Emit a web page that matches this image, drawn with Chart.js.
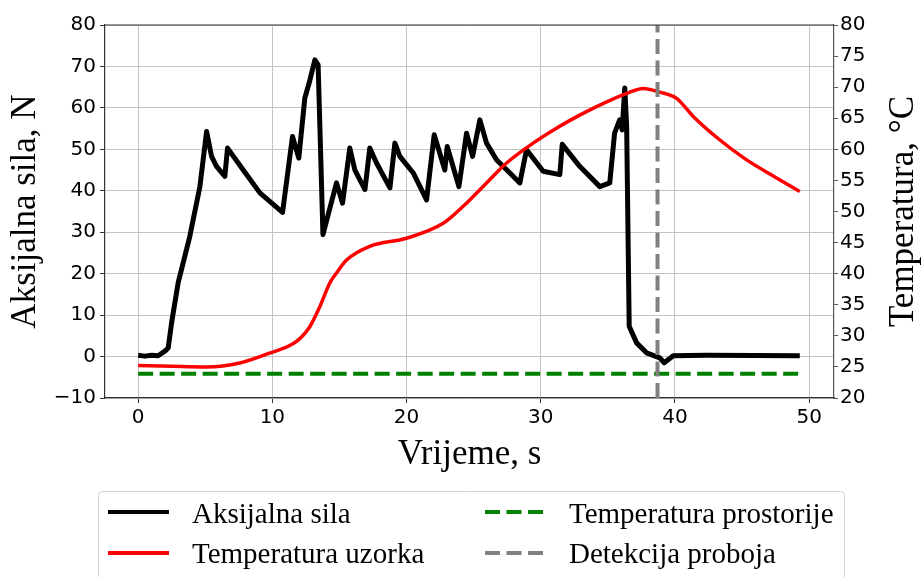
<!DOCTYPE html>
<html>
<head>
<meta charset="utf-8">
<script src="https://cdn.jsdelivr.net/npm/chart.js@4"></script>
<style>
  html, body { margin: 0; padding: 0; background: #fff; }
  #wrap { width: 922px; height: 577px; }
</style>
</head>
<body>
<div id="wrap"><canvas id="chart" width="922" height="577"></canvas></div>
<script>
// Aksijalna sila (N) vs vrijeme (s)
const forceTime = [0, 0.5, 1.0, 1.49, 1.99, 2.24, 2.49, 2.98, 3.85, 4.6, 5.1, 5.47, 5.84, 6.46, 6.66, 7.83,
    9.07, 10.76, 11.5, 11.97, 12.42, 12.74, 13.17, 13.41, 13.77, 14.78, 15.23, 15.77, 16.15, 16.9, 17.26, 17.76,
    18.76, 19.13, 19.5, 20.5, 21.49, 22.06, 22.85, 23.03, 23.9, 24.47, 24.92, 25.46, 25.96, 26.7, 27.7, 28.44,
    28.94, 30.18, 31.42, 31.6, 32.9, 34.4, 35.14, 35.5, 35.88, 36.07, 36.26, 36.4, 36.59, 37.14, 37.88, 38.87,
    39.2, 39.87, 42.3, 49.3];
const forceValues = [0.3, 0.1, 0.3, 0.2, 1.3, 2.1, 8.1, 17.8, 29, 41, 54.3, 48.3, 45.9, 43.5, 50.3, 45,
    39.5, 34.8, 53.1, 47.9, 62.4, 66, 71.6, 70.4, 29.4, 41.9, 37, 50.3, 45, 40.3, 50.3, 46.7,
    40.7, 51.5, 48.3, 44.3, 37.8, 53.5, 45, 50.7, 41, 53.9, 48.3, 57.1, 51.5, 47.5, 44.3, 41.9,
    49.9, 44.7, 43.9, 51.2, 45.9, 41, 41.9, 53.9, 57.1, 54.7, 64.8, 55.5, 7.3, 3.3, 0.9, -0.3,
    -1.5, 0.2, 0.3, 0.2];

// Temperatura uzorka (°C)
const tempTime = [0, 2.5, 5.1, 7.58, 9.81, 11.8, 12.8, 13.54, 14.28, 14.78, 15.53, 17.26, 20, 22.73, 24.2,
    25.96, 27.45, 29.43, 31.17, 32.9, 33.9, 36.4, 37.63, 38.87, 40.12, 41.36, 43.35, 45.34, 47.57, 49.3];
const tempValues = [25.24, 25.1, 24.98, 25.63, 27.23, 29.1, 31.5, 34.7, 38.5, 40.1, 42.2, 44.4, 45.7, 48.1, 50.8,
    54.6, 57.8, 61, 63.4, 65.5, 66.6, 69, 69.8, 69.2, 68.2, 65.3, 61.5, 58.3, 55.4, 53.2];

// Temperatura prostorije (°C)
const roomTime = [0, 49.3];
const roomTemp = [23.9, 23.9];

// Detekcija proboja (s)
const breakdownTime = 38.7;

const xTicks = [0, 10, 20, 30, 40, 50];
const forceTicks = [-10, 0, 10, 20, 30, 40, 50, 60, 70, 80];
const tempTicks = [20, 25, 30, 35, 40, 45, 50, 55, 60, 65, 70, 75, 80];

const toPoints = (xs, ys) => xs.map((x, i) => ({ x: x, y: ys[i] }));
const serif = '"Liberation Serif", "Times New Roman", serif';

Chart.defaults.font.family = '"DejaVu Sans", sans-serif';
Chart.defaults.color = '#000';

const extrasPlugin = {
    id: 'extras',
    afterDraw(chart) {
        const { ctx, chartArea: a } = chart;
        ctx.save();
        // top spine
        ctx.strokeStyle = '#333';
        ctx.lineWidth = 1.2;
        ctx.beginPath();
        ctx.moveTo(a.left, a.top);
        ctx.lineTo(a.right, a.top);
        ctx.stroke();

        // right axis title, reading bottom to top
        ctx.save();
        ctx.font = '35px ' + serif;
        ctx.fillStyle = '#000';
        ctx.translate(913, (a.top + a.bottom) / 2);
        ctx.rotate(-Math.PI / 2);
        ctx.textAlign = 'center';
        ctx.textBaseline = 'alphabetic';
        ctx.fillText('Temperatura, \u00B0C', 0, 0);
        ctx.restore();

        // legend box
        ctx.fillStyle = 'rgba(255,255,255,0.9)';
        ctx.strokeStyle = '#d4d4d4';
        ctx.lineWidth = 1;
        ctx.beginPath();
        ctx.roundRect(98.5, 491.5, 746, 100, 4);
        ctx.fill();
        ctx.stroke();

        const cols = [108, 485];
        const rows = [512, 553];
        const textRows = [523, 563];
        const slots = [[0, 0], [0, 1], [1, 0], [1, 1]];
        ctx.font = '29px ' + serif;
        ctx.textBaseline = 'alphabetic';
        ctx.textAlign = 'left';
        chart.data.datasets.forEach((ds, i) => {
            const [c, r] = slots[i];
            ctx.strokeStyle = ds.borderColor;
            ctx.lineWidth = 4;
            ctx.setLineDash(ds.borderDash || []);
            ctx.beginPath();
            ctx.moveTo(cols[c], rows[r]);
            ctx.lineTo(cols[c] + 61, rows[r]);
            ctx.stroke();
            ctx.setLineDash([]);
            ctx.fillStyle = '#000';
            ctx.fillText(ds.label, cols[c] + 84, textRows[r]);
        });
        ctx.restore();
    }
};

new Chart(document.getElementById('chart').getContext('2d'), {
    type: 'line',
    data: {
        datasets: [{
            label: 'Aksijalna sila',
            data: toPoints(forceTime, forceValues),
            borderColor: '#000000',
            borderWidth: 5,
            borderJoinStyle: 'round',
            pointRadius: 0,
            tension: 0,
            yAxisID: 'y',
            order: 4
        }, {
            label: 'Temperatura uzorka',
            data: toPoints(tempTime, tempValues),
            borderColor: '#ff0000',
            borderWidth: 3.5,
            pointRadius: 0,
            cubicInterpolationMode: 'monotone',
            yAxisID: 'y2',
            order: 3
        }, {
            label: 'Temperatura prostorije',
            data: toPoints(roomTime, roomTemp),
            borderColor: '#008000',
            borderWidth: 4,
            borderDash: [15, 6.5],
            pointRadius: 0,
            yAxisID: 'y2',
            order: 2
        }, {
            label: 'Detekcija proboja',
            data: [{ x: breakdownTime, y: forceTicks[0] }, { x: breakdownTime, y: forceTicks[forceTicks.length - 1] }],
            borderColor: '#808080',
            borderWidth: 4,
            borderDash: [15, 6.5],
            pointRadius: 0,
            yAxisID: 'y',
            order: 1
        }]
    },
    options: {
        responsive: false,
        animation: false,
        devicePixelRatio: 1,
        layout: { padding: { top: 25, bottom: 97, left: 0, right: 0 } },
        plugins: {
            legend: { display: false },
            tooltip: { enabled: false }
        },
        scales: {
            x: {
                type: 'linear',
                min: -2.47,
                max: 51.85,
                afterBuildTicks: s => { s.ticks = xTicks.map(v => ({ value: v })); },
                afterFit: s => { s.height = 82; },
                ticks: { font: { size: 20 }, padding: 3, maxRotation: 0 },
                grid: { color: '#c4c4c4', lineWidth: 1, tickLength: 5, tickColor: '#333' },
                border: { display: true, color: '#333', width: 1.2 },
                title: {
                    display: true,
                    text: 'Vrijeme, s',
                    font: { family: serif, size: 35 },
                    padding: { top: 0, bottom: 4 }
                }
            },
            y: {
                type: 'linear',
                position: 'left',
                min: -10,
                max: 80,
                afterBuildTicks: s => { s.ticks = forceTicks.map(v => ({ value: v })); },
                afterFit: s => { s.width = 105; },
                ticks: {
                    font: { size: 20 },
                    padding: 4,
                    callback: v => String(v).replace('-', '\u2212')
                },
                grid: { color: '#c4c4c4', lineWidth: 1, tickLength: 5, tickColor: '#333' },
                border: { display: true, color: '#333', width: 1.2 },
                title: {
                    display: true,
                    text: 'Aksijalna sila, N',
                    font: { family: serif, size: 35 },
                    padding: { top: 5, bottom: 0 }
                }
            },
            y2: {
                type: 'linear',
                position: 'right',
                min: 20,
                max: 80,
                afterBuildTicks: s => { s.ticks = tempTicks.map(v => ({ value: v })); },
                afterFit: s => { s.width = 88; },
                ticks: { font: { size: 20 }, padding: 2 },
                grid: { drawOnChartArea: false, tickLength: 4, tickColor: '#555' },
                border: { display: true, color: '#555', width: 1.2 }
            }
        }
    },
    plugins: [extrasPlugin]
});
</script>
</body>
</html>
